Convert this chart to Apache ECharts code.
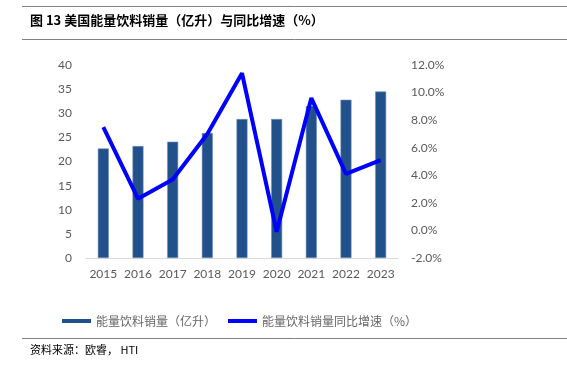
<!DOCTYPE html>
<html><head><meta charset="utf-8">
<script src="https://cdn.jsdelivr.net/npm/echarts@6/dist/echarts.min.js"></script>
<style>html,body{margin:0;padding:0;background:#fff}#c{width:567px;height:366px}</style>
</head><body><div id="c"></div>
<script>
const years = ['2015','2016','2017','2018','2019','2020','2021','2022','2023'];
const sales = [22.7, 23.2, 24.1, 25.9, 28.8, 28.8, 31.5, 32.8, 34.5];
const growth = [7.5, 2.3, 3.7, 7.0, 11.4, -0.1, 9.6, 4.1, 5.1];
const leftTicks = {min: 0, max: 40, interval: 5};
const rightTicks = {min: -2, max: 12, interval: 2};
const barName = '能量饮料销量（亿升）';
const lineName = '能量饮料销量同比增速（%）';
const titleText = '图 13 美国能量饮料销量（亿升）与同比增速（%）';
const sourceText = '资料来源：欧睿， HTI';

const chart = echarts.init(document.getElementById('c'));
const axisFont = {color: '#595959', fontSize: 12, fontFamily: 'Lato'};
chart.setOption({
  animation: false,
  grid: {left: 86, right: 169, top: 65, bottom: 108},
  legend: {
    left: 57, top: 310, itemWidth: 29, itemHeight: 4, itemGap: 12,
    textStyle: {color: '#666666', fontSize: 12, fontFamily: 'Noto Sans CJK SC'},
    data: [
      {name: barName, icon: 'rect', itemStyle: {color: '#22508a', borderWidth: 0}},
      {name: lineName, icon: 'rect', itemStyle: {color: '#0000ff', borderWidth: 0}}
    ]
  },
  xAxis: {
    type: 'category', data: years,
    axisLine: {lineStyle: {color: '#d9d9d9', width: 1}},
    axisTick: {show: false},
    axisLabel: Object.assign({margin: 10, interval: 0}, axisFont)
  },
  yAxis: [
    {type: 'value', min: leftTicks.min, max: leftTicks.max, interval: leftTicks.interval,
     splitLine: {show: false}, axisLine: {show: false}, axisTick: {show: false},
     axisLabel: Object.assign({margin: 14}, axisFont)},
    {type: 'value', min: rightTicks.min, max: rightTicks.max, interval: rightTicks.interval,
     splitLine: {show: false}, axisLine: {show: false}, axisTick: {show: false},
     axisLabel: Object.assign({margin: 13, formatter: v => v.toFixed(1) + '%'}, axisFont)}
  ],
  series: [
    {name: barName, type: 'bar', data: sales, barWidth: 11, yAxisIndex: 0,
     itemStyle: {color: '#22508a', borderColor: '#6f8fb8', borderWidth: 0.6}},
    {name: lineName, type: 'line', data: growth, yAxisIndex: 1, symbol: 'none',
     lineStyle: {color: '#0000ff', width: 4}, itemStyle: {color: '#0000ff'}}
  ],
  graphic: [
    {type: 'line', shape: {x1: 22, y1: 6.5, x2: 567, y2: 6.5}, style: {stroke: '#808080', lineWidth: 1}},
    {type: 'text', left: 30, top: 14, style: {text: titleText, font: 'bold 13px "Noto Sans CJK SC"', fill: '#000'}},
    {type: 'line', shape: {x1: 22, y1: 39.5, x2: 567, y2: 39.5}, style: {stroke: '#808080', lineWidth: 1}},
    {type: 'line', shape: {x1: 22, y1: 338.5, x2: 567, y2: 338.5}, style: {stroke: '#808080', lineWidth: 1}},
    {type: 'text', left: 30, top: 344, style: {text: sourceText, font: '11px "Noto Sans CJK SC"', fill: '#000'}}
  ]
});
</script></body></html>
